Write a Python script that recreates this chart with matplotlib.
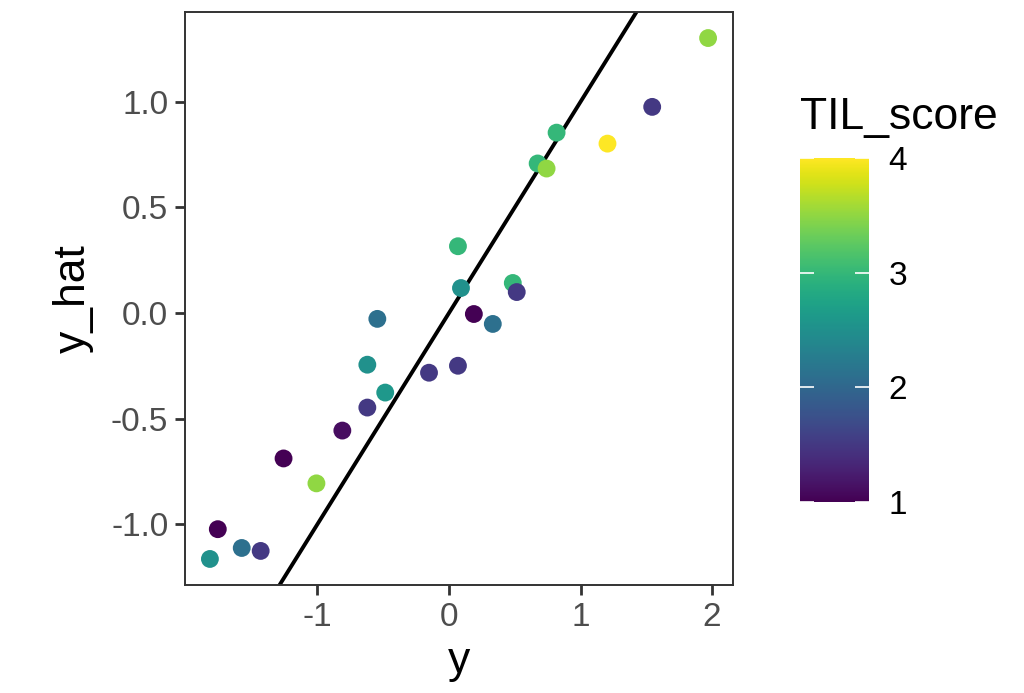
import matplotlib.pyplot as plt
import matplotlib as mpl
import numpy as np

plt.rcParams['font.family'] = ['Liberation Sans', 'DejaVu Sans']

# observed vs predicted, coloured by TIL score
y = [-1.818, -1.758, -1.576, -1.432, -1.258, -1.008, -0.811, -0.621, -0.621,
     -0.545, -0.485, -0.152, 0.068, 0.068, 0.091, 0.189, 0.333, 0.485, 0.515,
     0.674, 0.742, 0.818, 1.205, 1.545, 1.970]
y_hat = [-1.165, -1.024, -1.113, -1.127, -0.689, -0.807, -0.557, -0.448, -0.245,
         -0.028, -0.377, -0.283, 0.316, -0.250, 0.118, -0.005, -0.052, 0.142, 0.099,
         0.708, 0.684, 0.854, 0.802, 0.976, 1.302]
til_score = [2.5, 1.0, 2.1, 1.5, 1.0, 3.5, 1.1, 1.5, 2.5,
             2.1, 2.6, 1.5, 3.0, 1.5, 2.5, 1.0, 2.1, 3.0, 1.5,
             3.0, 3.5, 3.0, 4.0, 1.5, 3.5]

W, H = 1024, 693
fig = plt.figure(figsize=(W / 100, H / 100), dpi=100)
ax = fig.add_axes([185 / W, 1 - 585 / H, 548 / W, 573 / H])

norm = mpl.colors.Normalize(vmin=min(til_score), vmax=max(til_score))
ax.scatter(y, y_hat, c=til_score, cmap='viridis', norm=norm, s=165,
           linewidths=0, zorder=3)
ax.margins(0.05)
ax.axline((0, 0), slope=1, color='black', lw=2.8, zorder=2)

ax.set_xticks([-1, 0, 1, 2])
ax.set_xticklabels(['-1', '0', '1', '2'])
ax.set_yticks([-1.0, -0.5, 0.0, 0.5, 1.0])
ax.set_yticklabels(['-1.0', '-0.5', '0.0', '0.5', '1.0'])
ax.tick_params(direction='out', length=7, width=2, color='#333333',
               labelsize=24, labelcolor='#4D4D4D', pad=5)
for sp in ax.spines.values():
    sp.set_color('#333333')
    sp.set_linewidth(1.4)
ax.set_xlabel('y', fontsize=32, labelpad=6)
ax.set_ylabel('y_hat', fontsize=32, labelpad=12)

# colour bar
cax = fig.add_axes([800 / W, 1 - 502 / H, 69 / W, 344 / H])
grad = np.linspace(norm.vmin, norm.vmax, 300).reshape(-1, 1)
cax.imshow(grad, cmap='viridis', norm=norm, aspect='auto', origin='lower',
           extent=[0, 1, norm.vmin, norm.vmax])
cax.set_xticks([])
cax.set_yticks([1, 2, 3, 4])
cax.yaxis.tick_right()
cax.tick_params(axis='y', direction='in', length=10, width=1.2, color='white',
                left=True, right=True, labelleft=False, labelright=True,
                labelsize=24, labelcolor='black', pad=14)
for sp in cax.spines.values():
    sp.set_visible(False)
fig.text(800 / W, 1 - 118 / H, 'TIL_score', fontsize=32, va='center', ha='left')

fig.savefig('out.png', dpi=100)
